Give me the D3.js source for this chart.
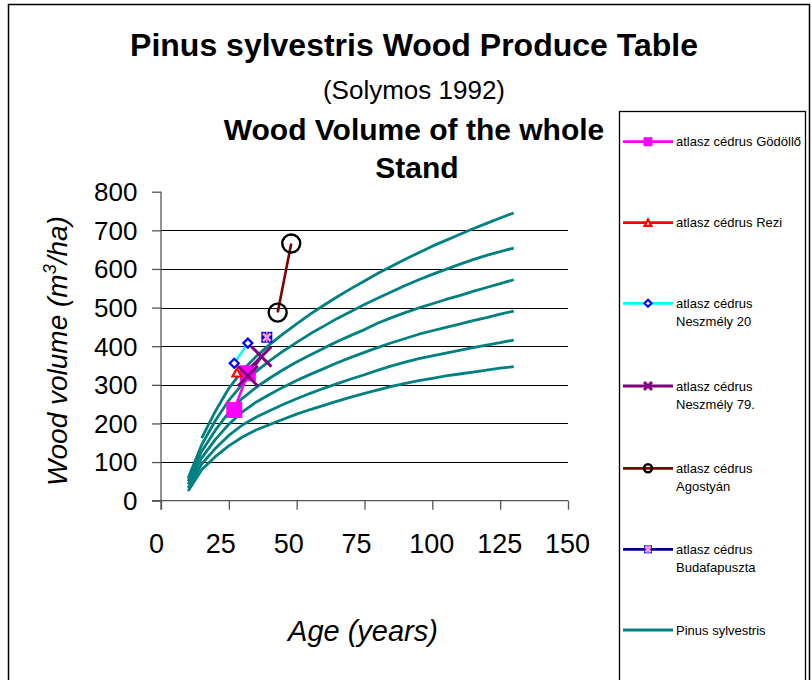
<!DOCTYPE html>
<html><head><meta charset="utf-8">
<script src="https://cdn.jsdelivr.net/npm/d3@7"></script>
<style>
html,body{margin:0;padding:0;background:#fff;}
svg{display:block;font-family:"Liberation Sans",Arial,sans-serif;}
</style></head>
<body>
<svg id="chart" width="812" height="680"></svg>
<script>
// ---- data ----
const titleLines = ["Pinus sylvestris Wood Produce Table", "(Solymos 1992)", "Wood Volume of the whole", "Stand"];
const xTicks = [0, 25, 50, 75, 100, 125, 150];
const yTicks = [0, 100, 200, 300, 400, 500, 600, 700, 800];
const gridValues = [100, 200, 300, 400, 500, 600, 700];

const pinusAges = [10,15,20,25,30,35,40,45,50,55,60,65,70,75,80,85,90,95,100,105,110,115,120,125,130];
const pinus1 = [null,162,231,291,337,373,404,432,458,483,506,528,549,569,589,607,625,642,659,674,689,704,718,732,745];
const pinus2 = [58,145,207,260,302,334,362,387,410,432,452,472,490,508,525,541,557,572,586,599,612,624,635,645,654];
const pinus3 = [50,128,182,229,265,293,317,339,359,377,395,412,428,443,460,474,487,499,510,521,531,542,552,562,572];
const pinus4 = [42,111,158,198,230,255,275,294,311,327,342,357,371,384,397,409,420,431,440,449,457,466,474,483,491];
const pinus5 = [33,95,135,169,196,216,233,249,264,278,291,303,315,326,338,349,359,368,375,382,389,396,403,409,416];
const pinus6 = [25,80,114,142,165,183,197,211,224,236,247,258,268,278,287,296,304,311,317,323,328,333,338,343,347];
const pinusCurves = [pinus1, pinus2, pinus3, pinus4, pinus5, pinus6];

const godolloAge = [27, 32], godolloVol = [235, 330];
const reziAge = [28], reziVol = [332];
const neszmely20Age = [27, 32], neszmely20Vol = [356, 408];
const neszmely79Age = [32, 37], neszmely79Vol = [323, 373];
const agostyanAge = [43, 48], agostyanVol = [487, 666];
const budafaAge = [39], budafaVol = [423];

const series = [
  {name:["atlasz cédrus Gödöllő"], ages:godolloAge, vols:godolloVol, line:"#ff00ff", marker:"square"},
  {name:["atlasz cédrus Rezi"], ages:reziAge, vols:reziVol, line:"#ff0000", marker:"triangle"},
  {name:["atlasz cédrus","Neszmély 20"], ages:neszmely20Age, vols:neszmely20Vol, line:"#00ffff", marker:"diamond"},
  {name:["atlasz cédrus","Neszmély 79."], ages:neszmely79Age, vols:neszmely79Vol, line:"#800080", marker:"x"},
  {name:["atlasz cédrus","Agostyán"], ages:agostyanAge, vols:agostyanVol, line:"#800000", marker:"circle"},
  {name:["atlasz cédrus","Budafapuszta"], ages:budafaAge, vols:budafaVol, line:"#000080", marker:"star"},
  {name:["Pinus sylvestris"], ages:[], vols:[], line:"#008080", marker:null}
];

// ---- drawing ----
const svg = d3.select("#chart");
const x = d3.scaleLinear().domain([0,150]).range([161,568]);
const y = d3.scaleLinear().domain([0,800]).range([500.7,191.7]);

// outer border
svg.append("rect").attr("x",8.5).attr("y",4.5).attr("width",801).attr("height",700)
  .attr("fill","none").attr("stroke","#000").attr("stroke-width",1.5);

// titles
const tsz = [{s:32,w:"bold",y:56},{s:26,w:"normal",y:99},{s:30,w:"bold",y:140},{s:30,w:"bold",y:178}];
titleLines.forEach((t,i)=>{
  svg.append("text").attr("x",i===3?417:414).attr("y",tsz[i].y).attr("text-anchor","middle")
    .attr("font-size",tsz[i].s).attr("font-weight",tsz[i].w).attr("fill","#000").text(t);
});

// gridlines
svg.append("g").selectAll("line").data(gridValues).join("line")
  .attr("x1",x(0)).attr("x2",x(150)).attr("y1",d=>Math.round(y(d))+0.5).attr("y2",d=>Math.round(y(d))+0.5)
  .attr("stroke","#000").attr("stroke-width",1);

// axes
const yAxis = d3.axisLeft(y).tickValues(yTicks).tickSize(9).tickFormat("");
const gy = svg.append("g").attr("transform",`translate(${x(0)},0)`).call(yAxis);
gy.select(".domain").attr("d",`M0,${y(800)}V${y(0)+9}`);
const xAxis = d3.axisBottom(x).tickValues(xTicks).tickSize(9).tickFormat("");
const gx = svg.append("g").attr("transform",`translate(0,${y(0)})`).call(xAxis);
gx.select(".domain").attr("d",`M${x(0)-9},0H${x(150)}`);
svg.selectAll(".domain, .tick line").attr("stroke","#555").attr("stroke-width",1.3);

// tick labels
svg.append("g").selectAll("text").data(yTicks).join("text")
  .attr("x",137.5).attr("y",d=>y(d)).attr("dy","0.36em").attr("text-anchor","end")
  .attr("font-size",26).text(d=>d);
svg.append("g").selectAll("text").data(xTicks).join("text")
  .attr("x",d=>d===0?x(d)-12:x(d)-23).attr("y",553).attr("text-anchor","start")
  .attr("font-size",27).text(d=>d);

// axis titles
const yt = svg.append("text").attr("transform","translate(67,351) rotate(-90)")
  .attr("text-anchor","middle").attr("font-size",28).attr("font-style","italic");
yt.append("tspan").text("Wood volume (m");
yt.append("tspan").attr("font-size",18).attr("dy",-11).text("3");
yt.append("tspan").attr("dy",11).text("/ha)");
svg.append("text").attr("x",363).attr("y",641).attr("text-anchor","middle")
  .attr("font-size",29).attr("font-style","italic").text("Age (years)");

// pinus curves
const lineGen = d3.line().defined(d=>d[1]!=null).x(d=>x(d[0])).y(d=>y(d[1]));
svg.append("g").selectAll("path").data(pinusCurves).join("path")
  .attr("d",c=>lineGen(pinusAges.map((a,i)=>[a,c[i]])))
  .attr("fill","none").attr("stroke","#008080").attr("stroke-width",2.8).attr("stroke-linejoin","round");

// marker drawer
function drawMarker(g, type, cx, cy, size){
  const s = size;
  if(type==="square"){
    g.append("rect").attr("x",cx-s/2).attr("y",cy-s/2).attr("width",s).attr("height",s).attr("fill","#ff00ff");
  } else if(type==="triangle"){
    const h=s*0.9;
    g.append("path").attr("d",`M${cx},${cy-h/2}L${cx+s/2},${cy+h/2}L${cx-s/2},${cy+h/2}Z`)
      .attr("fill","#fff").attr("stroke","#ff0000").attr("stroke-width",2.2);
  } else if(type==="diamond"){
    g.append("path").attr("d",`M${cx},${cy-s/2}L${cx+s/2},${cy}L${cx},${cy+s/2}L${cx-s/2},${cy}Z`)
      .attr("fill","#fff").attr("stroke","#0000ff").attr("stroke-width",2.2);
  } else if(type==="x"){
    g.append("path").attr("d",`M${cx-s/2},${cy-s/2}L${cx+s/2},${cy+s/2}M${cx+s/2},${cy-s/2}L${cx-s/2},${cy+s/2}`)
      .attr("stroke","#800080").attr("stroke-width",3);
  } else if(type==="circle"){
    g.append("circle").attr("cx",cx).attr("cy",cy).attr("r",s/2)
      .attr("fill","none").attr("stroke","#000").attr("stroke-width",2.4);
  } else if(type==="star"){
    g.append("rect").attr("x",cx-s/2).attr("y",cy-s/2).attr("width",s).attr("height",s).attr("fill","#0000ff");
    const k=s*0.35;
    g.append("path").attr("d",`M${cx-k},${cy-k}L${cx+k},${cy+k}M${cx+k},${cy-k}L${cx-k},${cy+k}`)
      .attr("stroke","#ff99cc").attr("stroke-width",2.6);
    g.append("path").attr("d",`M${cx},${cy-s/2}V${cy+s/2}`).attr("stroke","#ff99cc").attr("stroke-width",1.2);
  }
}
const plotSizes = {square:16, triangle:9, diamond:9, x:20, circle:18, star:11};
const legSizes = {square:9, triangle:7, diamond:7, x:8, circle:8, star:8};

// series lines + markers
const mg = svg.append("g");
series.forEach(s=>{
  if(!s.marker) return;
  const pts = s.ages.map((a,i)=>[a,s.vols[i]]);
  if(pts.length>1){
    mg.append("path").attr("d",d3.line().x(d=>x(d[0])).y(d=>y(d[1]))(pts))
      .attr("fill","none").attr("stroke",s.line).attr("stroke-width",2.6);
  }
});
series.forEach(s=>{
  if(!s.marker) return;
  s.ages.forEach((a,i)=>drawMarker(mg, s.marker, x(a), y(s.vols[i]), plotSizes[s.marker]));
});

// legend
svg.append("rect").attr("x",619.5).attr("y",111.5).attr("width",186).attr("height",600)
  .attr("fill","#fff").attr("stroke","#000").attr("stroke-width",1.3);
const legY = [141.7, 222.7, 303.3, 386, 468.3, 549.3, 630];
const lg = svg.append("g");
series.forEach((s,i)=>{
  const yy = legY[i];
  lg.append("line").attr("x1",623).attr("x2",673).attr("y1",yy).attr("y2",yy)
    .attr("stroke",s.line).attr("stroke-width",2.8);
  if(s.marker) drawMarker(lg, s.marker, 648, yy, legSizes[s.marker]);
  s.name.forEach((t,j)=>{
    lg.append("text").attr("x",676).attr("y",yy+j*18).attr("dy","0.35em")
      .attr("font-size",13).text(t);
  });
});
</script>
</body></html>
